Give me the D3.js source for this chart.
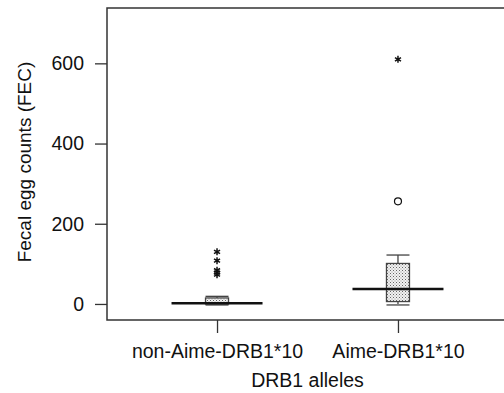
<!DOCTYPE html>
<html>
<head>
<meta charset="utf-8">
<script src="https://cdn.jsdelivr.net/npm/d3@7"></script>
<style>
  html, body { margin: 0; padding: 0; background: #fff; overflow: hidden; }
  svg { display: block; overflow: hidden; }
  text { font-family: "Liberation Sans", Arial, sans-serif; fill: #111; }
</style>
</head>
<body>
<script>
// box plot values
var groups = ["non-Aime-DRB1*10", "Aime-DRB1*10"];
var whiskerLow = [0, 0];
var q1 = [0, 6];
var median = [2, 37];
var q3 = [15, 101];
var whiskerHigh = [19, 122];
var mildOutliers = [[], [256]];
var extremeOutliers = [[130, 108, 84, 78, 73], [610]];
var yTicks = [0, 200, 400, 600];

var width = 504, height = 393;
var plotLeft = 107, plotTop = 8, plotBottom = 320;

var svg = d3.select("body")
            .append("svg")
            .attr("width", width)
            .attr("height", height);

// stipple fill for the boxes
var pat = svg.append("defs").append("pattern")
    .attr("id", "dots")
    .attr("width", 3)
    .attr("height", 3)
    .attr("patternUnits", "userSpaceOnUse");
pat.append("rect").attr("width", 3).attr("height", 3).attr("fill", "#f2f2f2");
pat.append("rect").attr("x", 0).attr("y", 0).attr("width", 1).attr("height", 1).attr("fill", "#666");
pat.append("rect").attr("x", 1.5).attr("y", 1.5).attr("width", 1).attr("height", 1).attr("fill", "#999");

var y = d3.scaleLinear()
          .domain([-40, 738])
          .range([plotBottom, plotTop]);

var x = d3.scalePoint()
          .domain(groups)
          .range([plotLeft, 508])
          .padding(0.608);

// frame: top, left and bottom only, it runs off the right edge
svg.append("path")
    .attr("d", "M" + (width + 40) + "," + plotTop + "H" + plotLeft + "V" + plotBottom + "H" + (width + 40))
    .attr("fill", "none")
    .attr("stroke", "#333")
    .attr("stroke-width", 1.5);

var yAxis = svg.append("g")
    .attr("transform", "translate(" + plotLeft + ",0)")
    .call(d3.axisLeft(y).tickValues(yTicks).tickSize(12).tickPadding(11));
yAxis.select(".domain").remove();
yAxis.selectAll("line").attr("stroke", "#333").attr("stroke-width", 1.3);
yAxis.selectAll("text").style("font-size", "19.5px").style("font-family", "Liberation Sans, Arial, sans-serif").attr("fill", "#111");

var xAxis = svg.append("g")
    .attr("transform", "translate(0," + plotBottom + ")")
    .call(d3.axisBottom(x).tickSize(13).tickPadding(11.5));
xAxis.select(".domain").remove();
xAxis.selectAll("line").attr("stroke", "#333").attr("stroke-width", 1.3);
xAxis.selectAll("text").style("font-size", "19.5px").style("font-family", "Liberation Sans, Arial, sans-serif").attr("fill", "#111");

svg.append("text")
    .text("Fecal egg counts (FEC)")
    .attr("transform", "translate(31,162) rotate(-90)")
    .attr("text-anchor", "middle")
    .style("font-size", "19px");

svg.append("text")
    .text("DRB1 alleles")
    .attr("x", (x(groups[0]) + x(groups[1])) / 2)
    .attr("y", 387)
    .attr("text-anchor", "middle")
    .style("font-size", "19.5px");

var boxW = 23, medW = 91;
var idx = d3.range(groups.length);

// whiskers
svg.selectAll(".whisk")
    .data(idx)
    .enter()
    .append("line")
    .attr("x1", function(i) { return x(groups[i]); })
    .attr("x2", function(i) { return x(groups[i]); })
    .attr("y1", function(i) { return y(whiskerLow[i]); })
    .attr("y2", function(i) { return y(whiskerHigh[i]); })
    .attr("stroke", "#444")
    .attr("stroke-width", 1.3);

svg.selectAll(".capHi")
    .data(idx)
    .enter()
    .append("line")
    .attr("x1", function(i) { return x(groups[i]) - boxW / 2; })
    .attr("x2", function(i) { return x(groups[i]) + boxW / 2; })
    .attr("y1", function(i) { return y(whiskerHigh[i]); })
    .attr("y2", function(i) { return y(whiskerHigh[i]); })
    .attr("stroke", "#444")
    .attr("stroke-width", 1.3);

svg.selectAll(".capLo")
    .data(idx)
    .enter()
    .append("line")
    .attr("x1", function(i) { return x(groups[i]) - boxW / 2; })
    .attr("x2", function(i) { return x(groups[i]) + boxW / 2; })
    .attr("y1", function(i) { return y(whiskerLow[i]) + 1; })
    .attr("y2", function(i) { return y(whiskerLow[i]) + 1; })
    .attr("stroke", "#444")
    .attr("stroke-width", 1.3);

// boxes
svg.selectAll(".box")
    .data(idx)
    .enter()
    .append("rect")
    .attr("x", function(i) { return x(groups[i]) - boxW / 2; })
    .attr("y", function(i) { return y(q3[i]); })
    .attr("width", boxW)
    .attr("height", function(i) { return Math.max(y(q1[i]) - y(q3[i]), 2); })
    .attr("fill", "url(#dots)")
    .attr("stroke", "#444")
    .attr("stroke-width", 1.3);

// median lines
svg.selectAll(".med")
    .data(idx)
    .enter()
    .append("line")
    .attr("x1", function(i) { return x(groups[i]) - medW / 2; })
    .attr("x2", function(i) { return x(groups[i]) + medW / 2; })
    .attr("y1", function(i) { return y(median[i]); })
    .attr("y2", function(i) { return y(median[i]); })
    .attr("stroke", "#111")
    .attr("stroke-width", 2.5);

// outliers
var mild = [], extreme = [];
idx.forEach(function(i) {
  mildOutliers[i].forEach(function(v) { mild.push({g: groups[i], v: v}); });
  extremeOutliers[i].forEach(function(v) { extreme.push({g: groups[i], v: v}); });
});

svg.selectAll(".mild")
    .data(mild)
    .enter()
    .append("circle")
    .attr("cx", function(d) { return x(d.g); })
    .attr("cy", function(d) { return y(d.v); })
    .attr("r", 3.5)
    .attr("fill", "none")
    .attr("stroke", "#111")
    .attr("stroke-width", 1.2);

var star = d3.symbol().type(d3.symbolAsterisk).size(34);
svg.selectAll(".extreme")
    .data(extreme)
    .enter()
    .append("path")
    .attr("d", star)
    .attr("transform", function(d) { return "translate(" + x(d.g) + "," + y(d.v) + ")"; })
    .attr("fill", "none")
    .attr("stroke", "#111")
    .attr("stroke-width", 1.5);
</script>
</body>
</html>
